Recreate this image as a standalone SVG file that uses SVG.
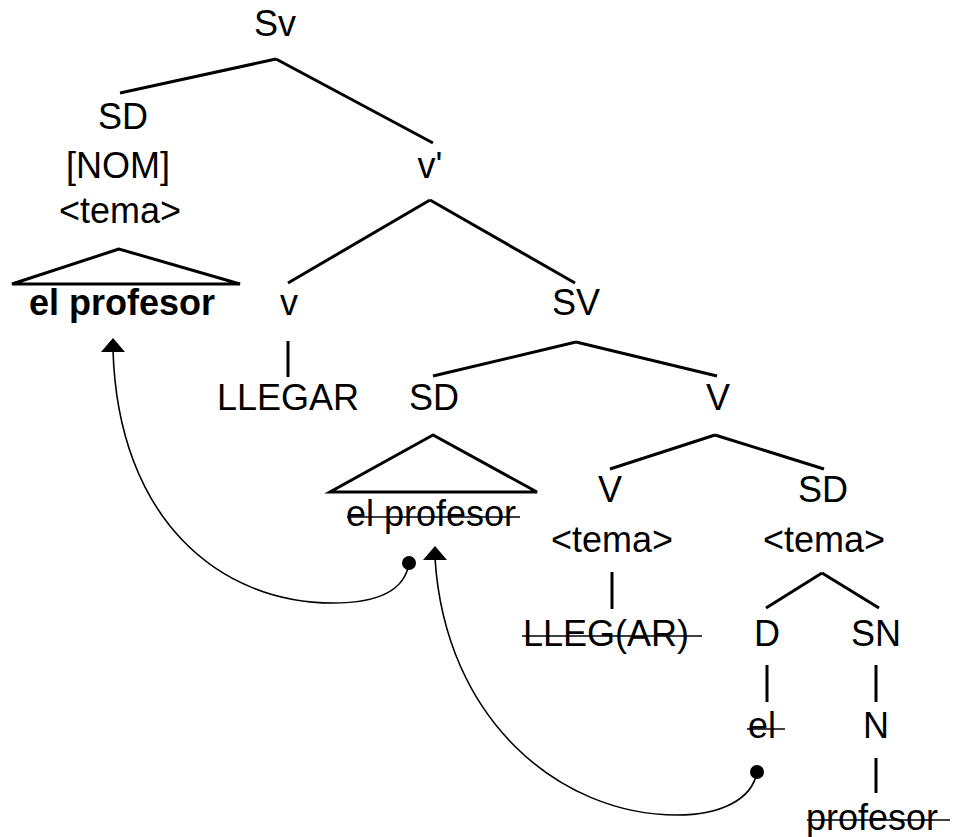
<svg xmlns="http://www.w3.org/2000/svg" xmlns:xlink="http://www.w3.org/1999/xlink" width="953" height="837" viewBox="0 0 953 837">
<style>
text{font-family:"Liberation Sans",Arial,sans-serif;font-size:36px;fill:#000;text-anchor:middle}
.b{font-weight:bold}
.e{stroke:#000;stroke-width:3;fill:none}
.s{stroke:#000;stroke-width:1.5}
.a{stroke:#000;stroke-width:1.6;fill:none}
.tri{stroke:#000;stroke-width:3;fill:none;stroke-linejoin:miter}
</style>
<defs>
<polygon id="head" points="0,0 -12,14 12,14" fill="#000"/>
<circle id="dot" r="7" fill="#000"/>
</defs>
<rect width="953" height="837" fill="#fff"/>
<g id="edges">
<line class="e" x1="276" y1="59" x2="120" y2="93"/>
<line class="e" x1="276" y1="59" x2="433" y2="143"/>
<line class="e" x1="430" y1="200" x2="288" y2="283"/>
<line class="e" x1="430" y1="200" x2="575" y2="283"/>
<line class="e" x1="288" y1="341" x2="288" y2="377"/>
<line class="e" x1="576" y1="342" x2="433" y2="376"/>
<line class="e" x1="576" y1="342" x2="717" y2="376"/>
<line class="e" x1="715" y1="435" x2="610" y2="469"/>
<line class="e" x1="715" y1="435" x2="824" y2="469"/>
<line class="e" x1="612" y1="572" x2="612" y2="609"/>
<line class="e" x1="822" y1="573" x2="766" y2="608"/>
<line class="e" x1="822" y1="573" x2="879" y2="608"/>
<line class="e" x1="767" y1="665" x2="767" y2="702"/>
<line class="e" x1="876" y1="665" x2="876" y2="702"/>
<line class="e" x1="876" y1="758" x2="876" y2="793"/>
</g>
<g id="movement">
<path class="a" d="M409,563 C405,590 380,603 333,603 C220,603 118,520 113,350"/>
<use xlink:href="#head" href="#head" x="113" y="338"/>
<use xlink:href="#dot" href="#dot" x="409" y="563"/>
<path class="a" d="M757,772 C752,800 720,815 677,815 C560,815 445,720 435,558"/>
<use xlink:href="#head" href="#head" x="435" y="546"/>
<use xlink:href="#dot" href="#dot" x="757" y="772"/>
</g>
<g id="n-Sv"><text x="275" y="36">Sv</text></g>
<g id="n-SD1"><text x="123" y="129">SD</text><text x="118" y="178">[NOM]</text><text x="120" y="223">&lt;tema&gt;</text></g>
<g id="n-tri1"><polygon class="tri" points="119,249 12,284 240,284"/><text class="b" x="122" y="315">el profesor</text></g>
<g id="n-vbar"><text x="430" y="178">v'</text></g>
<g id="n-v"><text x="289" y="315">v</text></g>
<g id="n-LLEGAR"><text x="288" y="410">LLEGAR</text></g>
<g id="n-SV"><text x="576" y="315">SV</text></g>
<g id="n-SD2"><text x="434" y="410">SD</text></g>
<g id="n-tri2"><polygon class="tri" points="433,435 330,492 537,492"/><text x="431" y="526">el profesor</text><line class="s" x1="347" y1="517" x2="520" y2="517"/></g>
<g id="n-Vbar"><text x="718" y="410">V</text></g>
<g id="n-V"><text x="610" y="502">V</text><text x="612" y="552">&lt;tema&gt;</text></g>
<g id="n-LLEG"><text x="606" y="646">LLEG(AR)</text><line class="s" x1="522" y1="636" x2="702" y2="636"/></g>
<g id="n-SD3"><text x="823" y="502">SD</text><text x="824" y="552">&lt;tema&gt;</text></g>
<g id="n-D"><text x="767" y="646">D</text></g>
<g id="n-el"><text x="762" y="738">el</text><line class="s" x1="747" y1="729" x2="785" y2="729"/></g>
<g id="n-SN"><text x="876" y="646">SN</text></g>
<g id="n-N"><text x="876" y="738">N</text></g>
<g id="n-profesor"><text x="872" y="830">profesor</text><line class="s" x1="807" y1="820" x2="950" y2="820"/></g>
</svg>
